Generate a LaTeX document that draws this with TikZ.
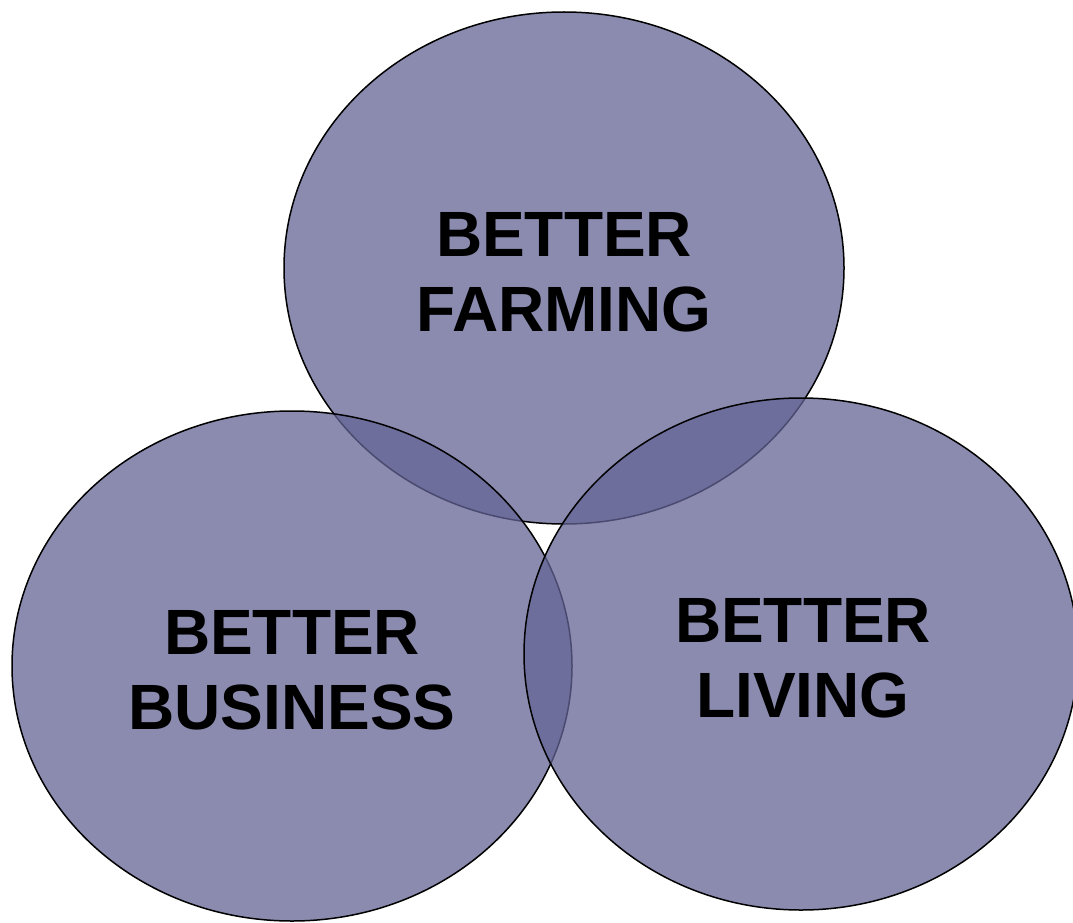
\documentclass[tikz,border=0pt]{standalone}
\usepackage{fontspec}
\setmainfont{Liberation Sans}
\usetikzlibrary{shapes.geometric}
\definecolor{vennfill}{RGB}{100,100,150}

\begin{document}
\begin{tikzpicture}[x=1pt, y=-1pt,
    circ/.style={ellipse, draw=black, line width=1.5pt, fill=vennfill,
      fill opacity=0.75, inner sep=0pt},
    caption/.style={align=center, yshift=-4pt, inner sep=0pt,
      font=\fontsize{64}{75}\selectfont\bfseries}]
  \useasboundingbox (0,0) rectangle (1073,923);
  \node (farming) [circ, minimum width=560pt, minimum height=512pt] at (564,268) {};
  \node (business) [circ, minimum width=560pt, minimum height=510pt] at (292,666) {};
  \node (living) [circ, minimum width=554pt, minimum height=512pt] at (801,654) {};
  % labels sit on top of all three fills
  \node (farmingtext) [caption] at (farming) {BETTER\\FARMING};
  \node (businesstext) [caption] at (business) {BETTER\\BUSINESS};
  \node (livingtext) [caption, xshift=2pt] at (living) {BETTER\\LIVING};
\end{tikzpicture}
\end{document}
